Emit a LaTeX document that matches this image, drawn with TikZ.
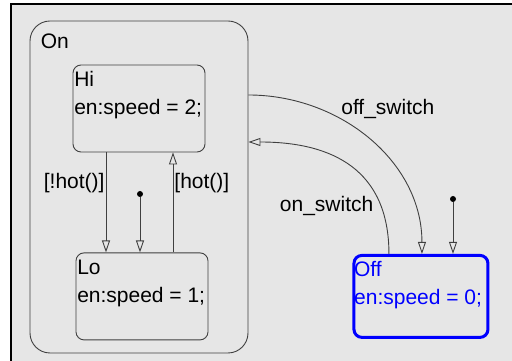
\documentclass[tikz,border=0pt]{standalone}
\usepackage{fontspec}
\setmainfont{Liberation Sans}
\usetikzlibrary{arrows.meta,positioning}
\definecolor{canvasgray}{HTML}{E6E6E6}
\definecolor{edgegray}{HTML}{404040}
\definecolor{offblue}{HTML}{0000FF}

\begin{document}
\begin{tikzpicture}[
        x=1pt, y=1pt,
        font=\fontsize{21}{28}\selectfont,
        state/.style={
            rectangle,
            draw=edgegray,
            line width=0.9pt,
            rounded corners=8pt,
            minimum width=132pt,
            minimum height=87pt,
            inner sep=0pt
        },
        superstate/.style={
            state,
            rounded corners=20pt,
            minimum width=218pt,
            minimum height=332pt
        },
        activestate/.style={
            state,
            draw=offblue,
            line width=3pt,
            minimum width=134pt,
            minimum height=82pt
        },
        statetitle/.style={anchor=north west, align=left, inner xsep=1.5pt, inner ysep=7pt},
        titled/.style={label={[statetitle]north west:{#1}}},
        trans/.style={-{Triangle[open, length=12pt, width=8pt]}, draw=edgegray, line width=0.9pt},
        initdot/.style={circle, fill=black, inner sep=0pt, minimum size=6pt},
        guard/.style={inner sep=1pt}
    ]
    \useasboundingbox (0,0) rectangle (512,361);
    \fill[canvasgray] (11,0) rectangle (512,357);
    \draw[line width=2pt] (11,0) -- (11,357) -- (512,357);

    \node[superstate, label={[statetitle, inner xsep=11pt, inner ysep=13pt]north west:{On}}] (on) at (139,174) {};
    \node[state, titled={Hi\\en:speed = 2;}] (hi) at (139,252.5) {};
    \node[state, titled={Lo\\en:speed = 1;}, below=100pt of hi, xshift=3pt] (lo) {};
    \node[activestate, label={[statetitle, text=offblue]north west:{Off\\en:speed = 0;}}, right=144pt of lo] (off) {};

    \node[initdot] (loinit) at (140,167) {};
    \node[initdot] (offinit) at (453,162) {};

    \draw[trans] ([xshift=-33pt]hi.south) -- node[guard, pos=0.31, left] {[!hot()]} ([xshift=-36pt]lo.north);
    \draw[trans] ([xshift=31pt]lo.north) -- node[guard, pos=0.69, right] {[hot()]} ([xshift=34pt]hi.south);
    \draw[trans] (loinit) -- (loinit |- lo.north);
    \draw[trans] (offinit) -- (offinit |- off.north);

    \draw[trans] ([yshift=92pt]on.east) to[out=0, in=90] node[pos=0.33, anchor=south west, xshift=4pt, yshift=-7pt] {off\_switch} ([xshift=1pt]off.north);
    \draw[trans] ([xshift=-32pt]off.north) to[out=90, in=0, looseness=1.2] node[pos=0.22, anchor=east, xshift=-4pt] {on\_switch} ([yshift=45pt]on.east);
\end{tikzpicture}
\end{document}
